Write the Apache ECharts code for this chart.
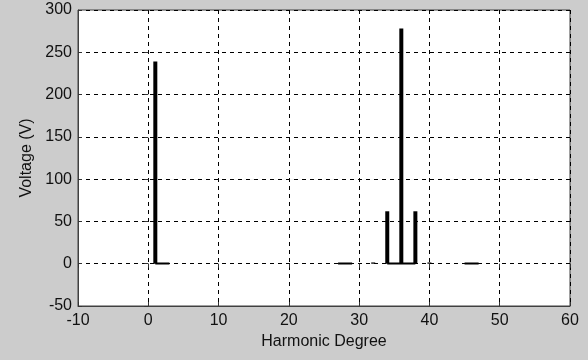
<!DOCTYPE html>
<html>
<head>
<meta charset="utf-8">
<script src="https://cdn.jsdelivr.net/npm/echarts@6/dist/echarts.min.js"></script>
<style>
  html, body { margin: 0; padding: 0; background: #cccccc; }
  #chart { width: 588px; height: 360px; }
</style>
</head>
<body>
<div id="chart"></div>
<script>
// harmonic spectrum
var harmonics = [];
for (var i = 1; i <= 50; i++) harmonics.push(i);
var voltage = [239, 0, 0, 0, 0, 0, 0, 0, 0, 0,
               0, 0, 0, 0, 0, 0, 0, 0, 0, 0,
               0, 0, 0, 0, 0, 0, 0, 0, 0, 0,
               0, 1.5, 0, 62, 0, 278, 0, 62, 0, 1.5,
               0, 0, 0, 0, 0, 0, 0, 0, 0, 0];
// small residual levels that show as solid bits on the zero line
var residual = [0.3, 0.3, 0.3, null, null, null, null, null, null, null,
                null, null, null, null, null, null, null, null, null, null,
                null, null, null, null, null, null, 0.3, 0.3, 0.3, null,
                null, null, null, 0.3, 0.3, 0.3, 0.3, 0.3, null, null,
                null, null, null, null, 0.3, 0.3, 0.3, null, null, null];
var xTicks = [-10, 60, 10];
var yTicks = [-50, 300, 50];

var font = 'Liberation Sans, Arial, sans-serif';
var chart = echarts.init(document.getElementById('chart'));

var barData = harmonics.map(function (h, i) { return [h, voltage[i]]; });
var resData = harmonics.map(function (h, i) { return [h, residual[i] == null ? '-' : residual[i]]; });

var hiddenAxis = {
  axisLine: { show: false },
  axisTick: { show: true, inside: true, length: 4, lineStyle: { color: '#333' } },
  axisLabel: { show: false },
  splitLine: { show: false }
};

chart.setOption({
  backgroundColor: '#cccccc',
  animation: false,
  grid: {
    left: 78, right: 18, top: 10, bottom: 54,
    show: true, backgroundColor: '#ffffff', borderColor: '#404040', borderWidth: 1
  },
  xAxis: [{
    type: 'value', min: xTicks[0], max: xTicks[1], interval: xTicks[2],
    name: 'Harmonic Degree', nameLocation: 'middle', nameGap: 27,
    nameTextStyle: { color: '#111', fontSize: 16, fontFamily: font },
    axisLine: { show: true, onZero: false, lineStyle: { color: '#404040' } },
    axisTick: { inside: true, length: 4, lineStyle: { color: '#333' } },
    axisLabel: { color: '#111', fontSize: 16, fontFamily: font, margin: 7 },
    splitLine: { show: true, lineStyle: { color: '#000', type: [4, 4], width: 1 } }
  }, Object.assign({
    type: 'value', position: 'top', min: xTicks[0], max: xTicks[1], interval: xTicks[2]
  }, hiddenAxis)],
  yAxis: [{
    type: 'value', min: yTicks[0], max: yTicks[1], interval: yTicks[2],
    name: 'Voltage (V)', nameLocation: 'middle', nameGap: 42,
    nameTextStyle: { color: '#111', fontSize: 16, fontFamily: font },
    axisLine: { show: true, onZero: false, lineStyle: { color: '#404040' } },
    axisTick: { inside: true, length: 4, lineStyle: { color: '#333' } },
    axisLabel: { color: '#111', fontSize: 16, fontFamily: font, margin: 6 },
    splitLine: { show: true, lineStyle: { color: '#000', type: [4, 4], width: 1 } }
  }, Object.assign({
    type: 'value', position: 'right', min: yTicks[0], max: yTicks[1], interval: yTicks[2]
  }, hiddenAxis)],
  series: [{
    type: 'bar',
    data: barData,
    barWidth: 4,
    itemStyle: { color: '#000' },
    z: 3
  }, {
    type: 'line',
    data: resData,
    showSymbol: false,
    connectNulls: false,
    lineStyle: { color: '#000', width: 2 },
    z: 4
  }]
});
</script>
</body>
</html>
